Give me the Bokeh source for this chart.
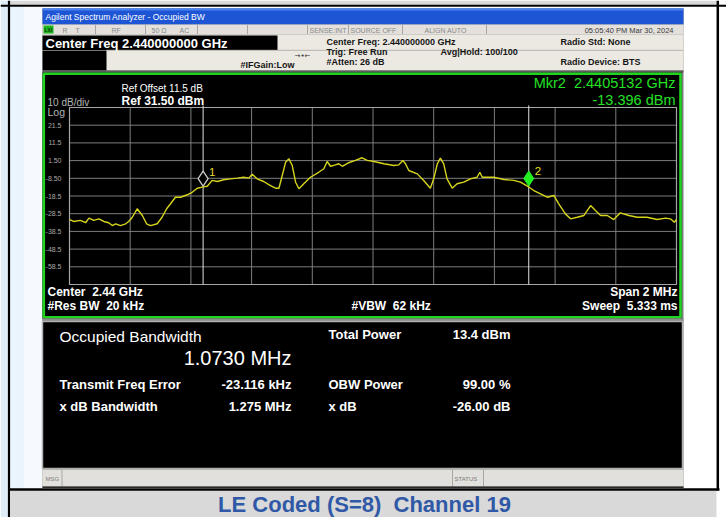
from bokeh.plotting import figure
from bokeh.models import Range1d
from bokeh.core.properties import value
from bokeh.embed import file_html
from bokeh.resources import INLINE

# ---------------- data ----------------
center_freq_ghz = 2.44
span_mhz = 2.0
ref_level_dbm = 31.5
db_per_div = 10.0
n_div = 10

freq_offset_mhz = [
    -1.000, -0.986, -0.964, -0.947, -0.936, -0.920, -0.903, -0.887, -0.871, -0.859,
    -0.848, -0.832, -0.815, -0.805, -0.793, -0.777, -0.760, -0.746, -0.733, -0.711,
    -0.695, -0.680, -0.667, -0.651, -0.634, -0.612, -0.596, -0.579, -0.563, -0.546,
    -0.530, -0.513, -0.492, -0.470, -0.447, -0.426, -0.409, -0.398, -0.382, -0.360,
    -0.338, -0.321, -0.310, -0.299, -0.288, -0.277, -0.266, -0.255, -0.244, -0.228,
    -0.206, -0.179, -0.162, -0.151, -0.140, -0.124, -0.113, -0.101, -0.080, -0.058,
    -0.036, -0.019, 0.003, 0.036, 0.069, 0.085, 0.098, 0.107, 0.118, 0.146,
    0.167, 0.189, 0.200, 0.212, 0.222, 0.233, 0.244, 0.261, 0.277, 0.299,
    0.321, 0.343, 0.352, 0.360, 0.376, 0.398, 0.431, 0.464, 0.486, 0.513,
    0.530, 0.552, 0.574, 0.596, 0.612, 0.634, 0.651, 0.673, 0.695, 0.717,
    0.733, 0.750, 0.772, 0.793, 0.815, 0.843, 0.871, 0.903, 0.936, 0.964,
    0.980, 0.993, 1.000]
trace_dbm = [
    -31.8, -32.9, -32.3, -33.6, -31.0, -32.3, -31.4, -32.9, -33.6, -35.2,
    -34.2, -35.2, -34.2, -32.9, -30.5, -25.7, -29.5, -34.2, -35.2, -34.2,
    -30.5, -25.7, -22.9, -19.2, -19.2, -17.8, -16.4, -14.1, -13.5, -13.0,
    -9.7, -10.3, -9.3, -8.8, -8.4, -7.9, -8.4, -6.2, -8.8, -10.3,
    -12.6, -14.1, -14.1, -6.9, 0.6, 2.5, -1.3, -10.7, -14.4, -11.6,
    -7.9, -5.1, -3.1, 1.0, -1.7, -0.9, -0.3, -1.7, 0.3, 1.6,
    3.1, 1.6, 1.0, -0.3, -1.3, -0.9, 1.6, -0.3, -4.1, -6.0,
    -9.7, -14.1, -8.8, -0.3, 2.9, -0.3, -8.8, -14.1, -11.6, -10.7,
    -8.8, -7.9, -5.1, -7.9, -7.9, -7.9, -9.2, -9.7, -10.7, -13.4,
    -15.4, -17.3, -19.2, -18.2, -22.9, -28.6, -31.4, -30.5, -29.5, -23.9,
    -26.7, -29.5, -29.5, -31.8, -28.0, -29.5, -30.5, -30.5, -31.8, -31.0,
    -31.4, -33.3, -31.8]

y_tick_values = [21.5, 11.5, 1.5, -8.5, -18.5, -28.5, -38.5, -48.5, -58.5]
y_tick_labels = ["21.5", "11.5", "1.50", "-8.50", "-18.5", "-28.5", "-38.5", "-48.5", "-58.5"]

marker_ids = ["1", "2"]
marker_freq_mhz = [-0.5598, 0.5132]
marker_dbm = [-13.5, -13.396]

result_labels_left = ["Transmit Freq Error", "x dB Bandwidth"]
result_values_left = ["-23.116 kHz", "1.275 MHz"]
result_labels_right = ["Total Power", "OBW Power", "x dB"]
result_values_right = ["13.4 dBm", "99.00 %", "-26.00 dB"]

# ---------------- layout (reference pixel coordinates) ----------------
W, H = 726, 517
X0, Y0 = 0, 0
GX0, GX1 = 69, 676          # graticule left/right
GY0, GY1 = 107, 284         # graticule top/bottom

f_per_px = span_mhz / (GX1 - GX0)
db_per_px = db_per_div * n_div / (GY1 - GY0)
f_start = -span_mhz / 2 - (GX0 - X0) * f_per_px
f_end = span_mhz / 2 + (X0 + W - GX1) * f_per_px
db_top = ref_level_dbm + (GY0 - Y0) * db_per_px
db_bot = (ref_level_dbm - db_per_div * n_div) - (Y0 + H - GY1) * db_per_px

p = figure(width=W, height=H, x_range=Range1d(X0, X0 + W), y_range=Range1d(Y0 + H, Y0),
           output_backend="svg", toolbar_location=None, min_border=0,
           x_axis_location=None, y_axis_location=None, background_fill_color="white",
           border_fill_color="white", outline_line_color=None)
p.grid.visible = False
p.extra_x_ranges = {"f": Range1d(f_start, f_end)}
p.extra_y_ranges = {"db": Range1d(db_bot, db_top)}

FONT = "Liberation Sans"


def box(x0, y0, x1, y1, fill, line=None, lw=1):
    p.quad(left=[x0], right=[x1], top=[y0], bottom=[y1], fill_color=fill,
           line_color=line, line_width=lw)


def hline(x0, x1, y, color, lw=1):
    p.segment(x0=[x0], y0=[y], x1=[x1], y1=[y], line_color=color, line_width=lw)


def vline(x, y0, y1, color, lw=1):
    p.segment(x0=[x], y0=[y0], x1=[x], y1=[y1], line_color=color, line_width=lw)


def txt(x, y, s, size, color, bold=False, align="left", font=FONT):
    p.text(x=[x], y=[y], text=[s], text_font=value(font), text_font_size=f"{size}px",
           text_color=color, text_align=align, text_baseline="middle",
           text_font_style="bold" if bold else "normal")


# ---- document table frame ----
box(0, 0, 7.5, 517, "#dfedf9")
box(9.5, 6, 24, 488, "#eaf4fc")
box(24, 6, 42, 488, "#f6fafe")
box(9.5, 0, 716, 4.5, "#d9d9d9")
hline(0, 726, 5.2, "black", 2)
vline(8.5, 0, 517, "black", 2.2)
vline(717.3, 0, 490, "black", 2.5)
box(9.5, 490, 716, 517, "#d9d9d9")
hline(8, 719, 489, "black", 2.5)
txt(364, 503.5, "LE Coded (S=8)\u00a0 Channel 19", 22, "#2f58a6", bold=True, align="center")

# ---- analyzer window ----
box(42, 8, 683, 488, "#7c7c7c")
box(42, 8, 683, 24, "#1d55d4")
hline(42, 683, 9, "#4a82f0", 2)
txt(45, 16.5, "Agilent Spectrum Analyzer - Occupied BW", 8.5, "white")

# status row
box(42, 24, 683, 34, "#e4e1dc")
for dx in [95, 145, 197, 247, 307, 348, 402, 486]:
    vline(dx, 24, 34, "#a8a6a2", 1)
box(43, 25, 53, 33, "#1fb51f")
txt(44, 29.5, "LXI", 5, "#0a3a0a", bold=True)
for sx, s in [(62, "R"), (75, "T"), (111, "RF"), (151, "50 \u03a9"), (179, "AC"),
              (309, "SENSE:INT"), (350, "SOURCE OFF"), (424, "ALIGN AUTO")]:
    txt(sx, 29.5, s, 7, "#8a8a8a")
txt(673, 29.5, "05:05:40 PM Mar 30, 2024", 7.5, "#3a3a3a", align="right")

# header area
box(42, 34, 683, 70, "#ece9e3")
box(42, 35, 277, 49.5, "black")
box(42, 50, 106, 70, "black")
hline(106, 683, 49.8, "#b8b5b0", 1)
txt(45, 42.5, "Center Freq 2.440000000 GHz", 13, "white", bold=True)
txt(326, 41.5, "Center Freq: 2.440000000 GHz", 9, "#151515", bold=True)
txt(326, 51.5, "Trig: Free Run", 9, "#151515", bold=True)
txt(326, 61.5, "#Atten: 26 dB", 9, "#151515", bold=True)
txt(440, 51.5, "Avg|Hold: 100/100", 9, "#151515", bold=True)
txt(560, 41.5, "Radio Std: None", 9, "#151515", bold=True)
txt(560, 61.5, "Radio Device: BTS", 9, "#151515", bold=True)
txt(240, 64.5, "#IFGain:Low", 9, "#151515", bold=True)
txt(302, 55, "\u2192\u2022\u2190", 7, "#303030", align="center", font="DejaVu Sans")
hline(42, 683, 71, "#5c5c5c", 2)

# plot panel
box(42, 72, 681, 318, "black")
p.quad(left=[43.3], right=[680], top=[73.3], bottom=[316.8], fill_color=None,
       line_color="#22d422", line_width=2.6)
box(42, 318, 683, 321, "#8e8e8e")

# graticule
grid_f = [-span_mhz / 2 + k * span_mhz / n_div for k in range(n_div + 1)]
grid_db = [ref_level_dbm - k * db_per_div for k in range(n_div + 1)]
p.segment(x0=grid_f, y0=[grid_db[-1]] * len(grid_f), x1=grid_f, y1=[grid_db[0]] * len(grid_f),
          line_color="#7d7d7d", line_width=1, x_range_name="f", y_range_name="db")
p.segment(x0=[grid_f[0]] * len(grid_db), y0=grid_db, x1=[grid_f[-1]] * len(grid_db), y1=grid_db,
          line_color="#7d7d7d", line_width=1, x_range_name="f", y_range_name="db")
p.quad(left=[grid_f[0]], right=[grid_f[-1]], top=[grid_db[0]], bottom=[grid_db[-1]],
       fill_color=None, line_color="#a6a6a6", line_width=1.2, x_range_name="f", y_range_name="db")

p.text(x=[grid_f[0]] * len(y_tick_values), y=y_tick_values, text=y_tick_labels,
       x_offset=-8, text_align="right", text_baseline="middle", text_font=value(FONT),
       text_font_size="7px", text_color="#a9a9a9", x_range_name="f", y_range_name="db")

txt(47, 101.5, "10 dB/div", 10, "#b5b5b5")
txt(47, 111.5, "Log", 10.5, "#b5b5b5")
txt(121, 88, "Ref Offset 11.5 dB", 10, "white")
txt(121, 100, "Ref 31.50 dBm", 12, "white", bold=True)
txt(675, 82.5, "Mkr2\u00a0 2.4405132 GHz", 14.5, "#25e025", align="right")
txt(675, 99, "-13.396 dBm", 14.5, "#25e025", align="right")

# marker lines
p.segment(x0=marker_freq_mhz, y0=[grid_db[-1]] * 2, x1=marker_freq_mhz,
          y1=[grid_db[0] + 1.2] * 2, line_color="#e2e2e2", line_width=1,
          x_range_name="f", y_range_name="db")

# trace
p.line(freq_offset_mhz, trace_dbm, line_color="#d6d51c", line_width=1.4,
       x_range_name="f", y_range_name="db")

# marker diamonds
diamond_lift = 8.5 * db_per_px
mk_y = [v + diamond_lift for v in marker_dbm]
p.scatter(x=marker_freq_mhz[:1], y=mk_y[:1], marker="diamond", size=15, fill_color="black",
          line_color="#c9c9c9", line_width=1.3, x_range_name="f", y_range_name="db")
p.scatter(x=marker_freq_mhz[1:], y=mk_y[1:], marker="diamond", size=15, fill_color="#22ee22",
          line_color="#22ee22", line_width=1, x_range_name="f", y_range_name="db")
p.text(x=marker_freq_mhz, y=mk_y, text=marker_ids, x_offset=6, y_offset=-7,
       text_align="left", text_baseline="middle", text_font=value(FONT),
       text_font_size="11.5px", text_color="#e4de2a", x_range_name="f", y_range_name="db")

# bottom annotations
txt(47, 291.5, "Center\u00a0 2.44 GHz", 12, "white", bold=True)
txt(47, 305.5, "#Res BW\u00a0 20 kHz", 12, "white", bold=True)
txt(351, 305.5, "#VBW\u00a0 62 kHz", 12, "white", bold=True)
txt(677, 291.5, "Span 2 MHz", 12, "white", bold=True, align="right")
txt(677, 305.5, "Sweep\u00a0 5.333 ms", 12, "white", bold=True, align="right")

# results panel
box(42, 321, 682, 468, "black", line="#b0b0b0", lw=1.5)
txt(59, 335.5, "Occupied Bandwidth", 15.5, "white")
txt(291, 357, "1.0730 MHz", 20, "white", align="right")
for i, (lab, val) in enumerate(zip(result_labels_left, result_values_left)):
    yy = [384, 405.5][i]
    txt(59, yy, lab, 13, "white", bold=True)
    txt(291, yy, val, 13, "white", bold=True, align="right")
for i, (lab, val) in enumerate(zip(result_labels_right, result_values_right)):
    yy = [334, 384, 405.5][i]
    txt(328, yy, lab, 13, "white", bold=True)
    txt(510, yy, val, 13, "white", bold=True, align="right")

# message/status bar
box(42, 469, 683, 486, "#e2e0dc")
for dx in [61.5, 452, 483]:
    vline(dx, 469, 486, "#a9a7a3", 1)
txt(45, 478, "MSG", 6, "#7a7a7a")
txt(454, 478, "STATUS", 6, "#7a7a7a")
box(42, 486, 683, 488, "#2a2a2a")

open("out.html", "w").write(file_html(p, INLINE))
